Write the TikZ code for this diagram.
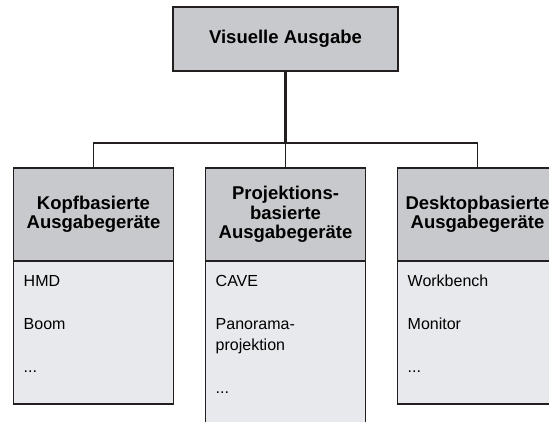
\documentclass[tikz,border=0pt]{standalone}
\usepackage{fontspec}
\setmainfont{Liberation Sans}
\usepackage{xcolor}
\usepackage{tikz}
\usetikzlibrary{positioning}
\definecolor{headgray}{RGB}{200,201,204}
\definecolor{bodygray}{RGB}{232,233,236}
\definecolor{edgeblack}{RGB}{35,31,32}

\begin{document}
\begin{tikzpicture}[x = 1pt, y = 1pt, node distance = 0pt]
        \tikzstyle{topbox} = [rectangle, draw = edgeblack, fill = headgray, line width = 1.8pt, outer sep = 0pt, align = center, font = \fontsize{18.5}{19}\selectfont\bfseries, minimum width = 225, minimum height = 64]
        \tikzstyle{headbox} = [rectangle, draw = edgeblack, fill = headgray, line width = 1.8pt, outer sep = 0pt, align = center, font = \fontsize{18.5}{19.5}\selectfont\bfseries, minimum width = 160, minimum height = 93, inner sep = 0pt]
        \tikzstyle{bodybox} = [rectangle, draw = edgeblack, fill = bodygray, line width = 1.8pt, outer sep = 0pt, minimum width = 160]
        \tikzstyle{itemlist} = [align = left, anchor = north west, inner sep = 0pt, font = \fontsize{16}{21}\selectfont]
        \tikzstyle{trunkline} = [draw = edgeblack, line width = 2.4pt]
        \tikzstyle{branchline} = [draw = edgeblack, line width = 1.5pt]
        \useasboundingbox (0,0) rectangle (549,-421);
        \clip (0,0) rectangle (549,-421);
        \node at (285.5,-39) (visual) [topbox] {Visuelle Ausgabe};
        \node (projhead) [headbox, below = 97 of visual] {Projektions-\\basierte\\Ausgabegeräte};
        \node (kopfhead) [headbox, left = 32 of projhead] {Kopfbasierte\\Ausgabegeräte};
        \node (deskhead) [headbox, right = 32 of projhead] {Desktopbasierte\\Ausgabegeräte};
        \node (kopfbody) [bodybox, minimum height = 143, below = of kopfhead] {};
        \node (projbody) [bodybox, minimum height = 180, below = of projhead] {};
        \node (deskbody) [bodybox, minimum height = 143, below = of deskhead] {};
        \node (kopflist) [itemlist] at ([xshift = 10pt, yshift = -14pt]kopfbody.north west)
        {HMD\\[22pt]Boom\\[22pt]...};
        \node (projlist) [itemlist] at ([xshift = 10pt, yshift = -14pt]projbody.north west)
        {CAVE\\[22pt]Panorama-\\projektion\\[22pt]...};
        \node (desklist) [itemlist] at ([xshift = 10pt, yshift = -14pt]deskbody.north west)
        {Workbench\\[22pt]Monitor\\[22pt]...};
        \draw [trunkline] (visual.south) -- ++(0,-72) coordinate (junction);
        \draw [branchline] (kopfhead.north) |- (junction) -| (deskhead.north);
        \draw [branchline] (junction) -- (projhead.north);
    \end{tikzpicture}
\end{document}
